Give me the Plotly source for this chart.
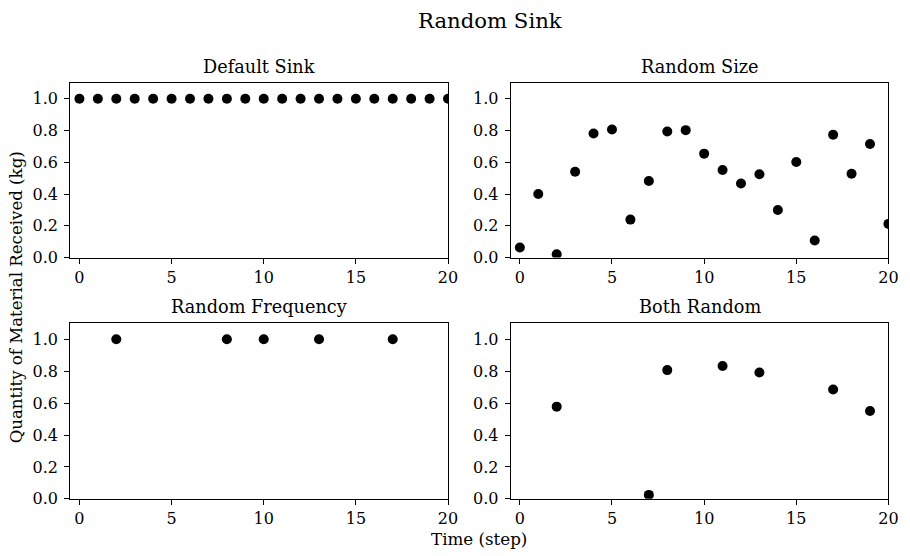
import plotly.graph_objects as go

# Time steps and material received for each sink configuration
steps_default = list(range(21))
qty_default = [1.0] * 21

steps_size = list(range(21))
qty_size = [0.064, 0.40, 0.021, 0.54, 0.781, 0.806, 0.239, 0.482, 0.794, 0.802,
            0.654, 0.551, 0.466, 0.524, 0.299, 0.602, 0.107, 0.773, 0.528, 0.715, 0.212]

steps_freq = [2, 8, 10, 13, 17]
qty_freq = [1.0, 1.0, 1.0, 1.0, 1.0]

steps_both = [2, 7, 8, 11, 13, 17, 19]
qty_both = [0.578, 0.025, 0.807, 0.833, 0.792, 0.685, 0.551]

panel_titles = ["Default Sink", "Random Size", "Random Frequency", "Both Random"]
x_ticks = [0, 5, 10, 15, 20]
y_ticks = [0.0, 0.2, 0.4, 0.6, 0.8, 1.0]
y_tick_text = ["0.0", "0.2", "0.4", "0.6", "0.8", "1.0"]

W, H = 910, 556
FONT = "DejaVu Serif"

# Panel boxes in pixels: (left, right, top, bottom)
boxes = [
    (71, 453, 84.3, 262.3),
    (516.3, 898.3, 84.3, 262.3),
    (71, 453, 329.3, 508.0),
    (516.3, 898.3, 329.3, 508.0),
]

series = [
    (steps_default, qty_default),
    (steps_size, qty_size),
    (steps_freq, qty_freq),
    (steps_both, qty_both),
]

fig = go.Figure()
layout = dict(
    width=W, height=H,
    margin=dict(l=0, r=0, t=0, b=0),
    paper_bgcolor="white", plot_bgcolor="white",
    showlegend=False,
    font=dict(family=FONT, color="black"),
    annotations=[],
)

for i, ((xs, ys), (l, r, t, b)) in enumerate(zip(series, boxes)):
    n = "" if i == 0 else str(i + 1)
    fig.add_trace(go.Scatter(
        x=xs, y=ys, mode="markers",
        marker=dict(color="black", size=10, line=dict(width=0)),
        xaxis="x" + n, yaxis="y" + n, cliponaxis=True,
    ))
    axis_common = dict(
        showline=True, linecolor="black", linewidth=1, mirror=True,
        showgrid=False, zeroline=False,
        ticks="outside", ticklen=5, tickwidth=1, tickcolor="black",
        tickfont=dict(family=FONT, size=16, color="black"),
    )
    layout["xaxis" + n] = dict(
        axis_common, domain=[l / W, r / W], range=[-0.5, 20],
        tickvals=x_ticks, ticktext=[str(v) for v in x_ticks],
        anchor="y" + n, ticklabelstandoff=0,
    )
    layout["yaxis" + n] = dict(
        axis_common, domain=[1 - b / H, 1 - t / H], range=[0, 1.1],
        tickvals=y_ticks, ticktext=y_tick_text,
        anchor="x" + n, ticklabelstandoff=3,
    )
    layout["annotations"].append(dict(
        text=panel_titles[i], xref="paper", yref="paper",
        x=(l + r) / 2 / W, y=1 - (t - 4) / H,
        xanchor="center", yanchor="bottom", showarrow=False,
        font=dict(family=FONT, size=17.7, color="black"),
    ))

# Figure title and shared axis labels
layout["annotations"].append(dict(
    text="Random Sink", xref="paper", yref="paper",
    x=495 / W, y=1 - 21 / H, xanchor="center", yanchor="middle",
    showarrow=False, font=dict(family=FONT, size=21.2, color="black"),
))
layout["annotations"].append(dict(
    text="Time (step)", xref="paper", yref="paper",
    x=484 / W, y=1 - 549 / H, xanchor="center", yanchor="middle",
    showarrow=False, font=dict(family=FONT, size=16.7, color="black"),
))
layout["annotations"].append(dict(
    text="Quantity of Material Received (kg)", xref="paper", yref="paper",
    x=17 / W, y=1 - 303 / H, xanchor="center", yanchor="middle",
    textangle=-90, showarrow=False,
    font=dict(family=FONT, size=16.6, color="black"),
))

fig.update_layout(**layout)
fig.write_html("out.html")
